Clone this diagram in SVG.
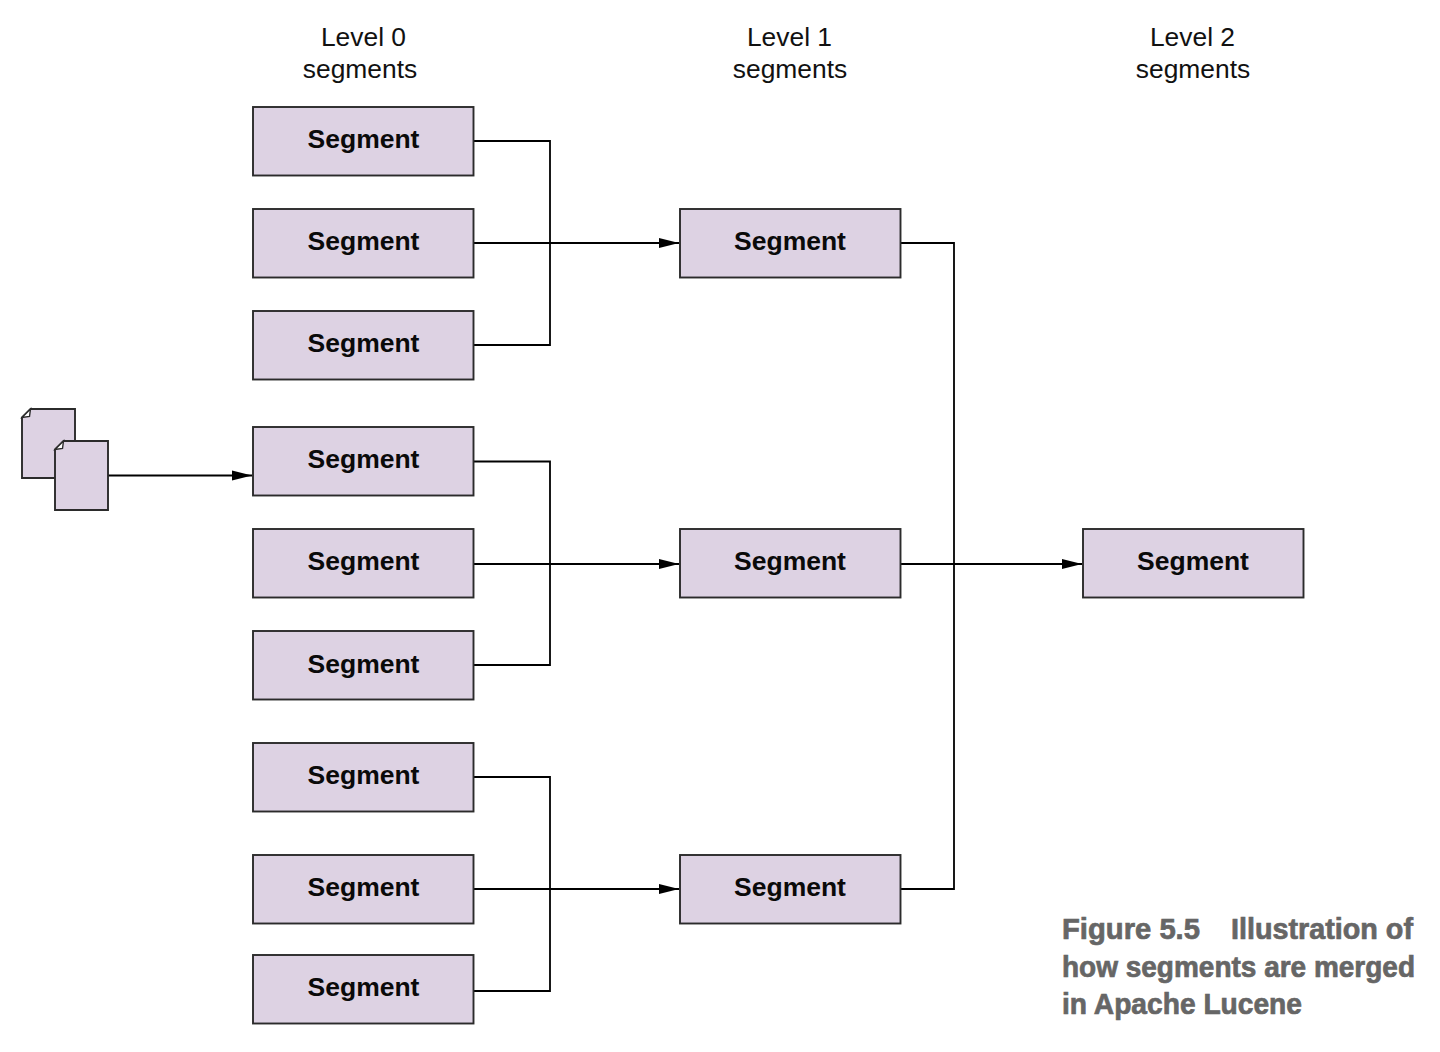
<svg xmlns="http://www.w3.org/2000/svg" width="1440" height="1052" viewBox="0 0 1440 1052">
<style>
.box{fill:#ddd2e3;stroke:#2b2b2b;stroke-width:1.9}
.seg{font:bold 26.5px "Liberation Sans",Arial,sans-serif;fill:#0a0a0a;text-anchor:middle}
.hd{font:26.4px "Liberation Sans",Arial,sans-serif;fill:#111;text-anchor:middle}
.cap{font:bold 29px "Liberation Sans",Arial,sans-serif;fill:#666;stroke:#666;stroke-width:.7}
.ln{fill:none;stroke:#000;stroke-width:1.8}
.fold{fill:#fff;stroke:#2b2b2b;stroke-width:1.4}
</style>
<defs>
<marker id="arr" markerUnits="userSpaceOnUse" markerWidth="20" markerHeight="12" refX="20" refY="6" orient="auto"><path d="M0 1L20 6L0 11Z" fill="#000"/></marker>
<rect id="b" class="box" width="220.500" height="68.500"/>
</defs>
<rect width="1440" height="1052" fill="#fff"/>
<g id="headers">
<text class="hd" x="363.500" y="46">Level 0</text><text class="hd" x="360" y="78">segments</text>
<text class="hd" x="789.500" y="46">Level 1</text><text class="hd" x="790" y="78">segments</text>
<text class="hd" x="1192.500" y="46">Level 2</text><text class="hd" x="1193" y="78">segments</text>
</g>
<g id="connectors">
<path class="ln" d="M474 141H550V345H474"/><path class="ln" d="M474 243H679" marker-end="url(#arr)"/>
<path class="ln" d="M474 461.500H550V665H474"/><path class="ln" d="M474 564H679" marker-end="url(#arr)"/>
<path class="ln" d="M474 777H550V991H474"/><path class="ln" d="M474 889H679" marker-end="url(#arr)"/>
<path class="ln" d="M901 243H954V889H901"/><path class="ln" d="M901 564H1082" marker-end="url(#arr)"/>
<path class="ln" d="M108 475.500H252" marker-end="url(#arr)"/>
</g>
<g id="docs">
<g id="doc1"><path class="box" d="M30.500 409H75V478H22V417.500Z"/><path class="fold" d="M30.500 409L22 417.500L29.500 416.500Z"/></g>
<g id="doc2"><path class="box" d="M63.500 441H108V510H55V449.500Z"/><path class="fold" d="M63.500 441L55 449.500L62.500 448.500Z"/></g>
</g>
<g id="n1"><use href="#b" x="253" y="107"/><text class="seg" x="363.500" y="148">Segment</text></g>
<g id="n2"><use href="#b" x="253" y="209"/><text class="seg" x="363.500" y="250">Segment</text></g>
<g id="n3"><use href="#b" x="253" y="311"/><text class="seg" x="363.500" y="352">Segment</text></g>
<g id="n4"><use href="#b" x="253" y="427"/><text class="seg" x="363.500" y="468">Segment</text></g>
<g id="n5"><use href="#b" x="253" y="529"/><text class="seg" x="363.500" y="570">Segment</text></g>
<g id="n6"><use href="#b" x="253" y="631"/><text class="seg" x="363.500" y="673">Segment</text></g>
<g id="n7"><use href="#b" x="253" y="743"/><text class="seg" x="363.500" y="784">Segment</text></g>
<g id="n8"><use href="#b" x="253" y="855"/><text class="seg" x="363.500" y="896">Segment</text></g>
<g id="n9"><use href="#b" x="253" y="955"/><text class="seg" x="363.500" y="996">Segment</text></g>
<g id="m1"><use href="#b" x="680" y="209"/><text class="seg" x="790" y="250">Segment</text></g>
<g id="m2"><use href="#b" x="680" y="529"/><text class="seg" x="790" y="570">Segment</text></g>
<g id="m3"><use href="#b" x="680" y="855"/><text class="seg" x="790" y="896">Segment</text></g>
<g id="t1"><use href="#b" x="1083" y="529"/><text class="seg" x="1193" y="570">Segment</text></g>
<g id="caption">
<text class="cap" x="1062" y="939" textLength="138" lengthAdjust="spacingAndGlyphs">Figure 5.5</text>
<text class="cap" x="1231" y="939" textLength="182" lengthAdjust="spacingAndGlyphs">Illustration of</text>
<text class="cap" x="1062" y="977" textLength="353" lengthAdjust="spacingAndGlyphs">how segments are merged</text>
<text class="cap" x="1062" y="1014" textLength="240" lengthAdjust="spacingAndGlyphs">in Apache Lucene</text>
</g>
</svg>
